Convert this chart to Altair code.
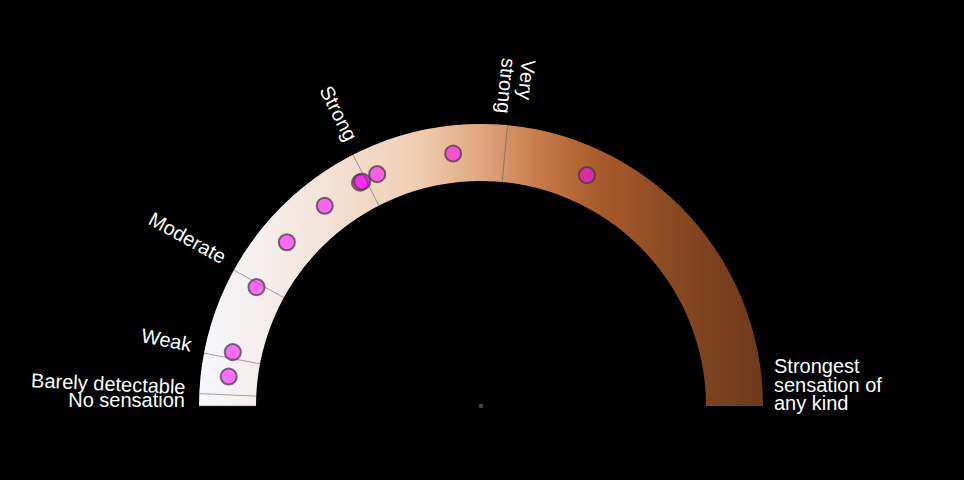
import math
import altair as alt
import pandas as pd

# ---- data ----
scale_labels = ["No sensation", "Barely detectable", "Weak", "Moderate", "Strong",
                "Very\nstrong", "Strongest\nsensation of\nany kind"]
scale_values = [0, 1.4, 6, 16, 35, 53, 100]
ratings = [3.7, 6.8, 15.5, 22.3, 28.9, 34.2, 34.5, 36.6, 46.5, 63.7]

grad_offsets = [0.0, 0.09, 0.23, 0.39, 0.5, 0.605, 0.71, 0.89, 1.0]
grad_colors = ["#f7f7fc", "#f5f0f0", "#f4e2d6", "#f0cdb0", "#e0a680",
               "#c87a48", "#a95a2a", "#7e4420", "#6e3a1c"]

# ---- geometry / layout ----
W, H = 948, 464
CX, CY = 473, 398
R_OUT, R_IN, R_PT, R_LBL = 282, 225, 254, 296
FONT = "Liberation Sans"
FS = 20

xs = alt.Scale(domain=[-CX, W - CX], nice=False, zero=False)
ys = alt.Scale(domain=[-(H - CY), CY], nice=False, zero=False)

def X(field=None, datum=None):
    if datum is not None:
        return alt.X(datum=datum, type="quantitative", scale=xs, axis=None)
    return alt.X(field, type="quantitative", scale=xs, axis=None)

def Y(field=None, datum=None):
    if datum is not None:
        return alt.Y(datum=datum, type="quantitative", scale=ys, axis=None)
    return alt.Y(field, type="quantitative", scale=ys, axis=None)

scale_df = pd.DataFrame({"label": scale_labels, "v": scale_values})
ratings_df = pd.DataFrame({"v": ratings})

gradient = alt.LinearGradient(
    gradient="linear", x1=0, x2=1, y1=0, y2=0,
    stops=[alt.GradientStop(color=c, offset=o) for c, o in zip(grad_colors, grad_offsets)],
)

ring = alt.Chart(pd.DataFrame({"v": [0]})).mark_arc(
    theta=1.5 * math.pi, theta2=2.5 * math.pi, radius=R_OUT, radius2=R_IN,
    fill=gradient,
).encode(x=X(datum=0), y=Y(datum=0))

ticks = alt.Chart(scale_df).transform_filter("datum.v < 100").transform_calculate(
    a="datum.v / 100 * PI",
).transform_calculate(
    x1=f"-{R_IN} * cos(datum.a)", y1=f"{R_IN} * sin(datum.a)",
    x2=f"-{R_OUT} * cos(datum.a)", y2=f"{R_OUT} * sin(datum.a)",
).mark_rule(color="#555555", strokeWidth=1, opacity=0.55).encode(
    x=X("x1"), y=Y("y1"), x2="x2:Q", y2="y2:Q"
)

center = alt.Chart(pd.DataFrame({"v": [0]})).mark_circle(
    color="#444444", size=22, opacity=1
).encode(x=X(datum=0), y=Y(datum=0))

points = alt.Chart(ratings_df).transform_calculate(
    a="datum.v / 100 * PI"
).transform_calculate(
    px=f"-{R_PT} * cos(datum.a)", py=f"{R_PT} * sin(datum.a)"
).mark_point(
    filled=True, fill="#ff00ff", fillOpacity=0.55, stroke="#3a3a3a",
    strokeOpacity=0.7, strokeWidth=2, size=260, shape="circle",
).encode(x=X("px"), y=Y("py"))

lbl_base = alt.Chart(scale_df).transform_calculate(
    a="datum.v / 100 * PI", rot="datum.v * 1.8"
)

left_labels = lbl_base.transform_filter("datum.v < 50").transform_calculate(
    lx=f"-{R_LBL} * cos(datum.a)", ly=f"{R_LBL} * sin(datum.a)"
).mark_text(
    align="right", baseline="alphabetic", font=FONT, fontSize=FS, color="white", dy=1
).encode(x=X("lx"), y=Y("ly"), text="label:N", angle=alt.Angle("rot:Q", scale=None))

R_VS = 349
top_labels = lbl_base.transform_filter("datum.v >= 50 && datum.v < 100").transform_calculate(
    lx=f"-{R_VS} * cos(datum.a)", ly=f"{R_VS} * sin(datum.a)"
).mark_text(
    align="left", baseline="alphabetic", font=FONT, fontSize=FS, color="white",
    lineBreak="\n", lineHeight=20, dy=-8,
).encode(x=X("lx"), y=Y("ly"), text="label:N", angle=alt.Angle("rot:Q", scale=None))

R_END = 293
end_labels = lbl_base.transform_filter("datum.v >= 100").transform_calculate(
    lx=f"-{R_END} * cos(datum.a)", ly=f"{R_END} * sin(datum.a)"
).mark_text(
    align="left", baseline="alphabetic", font=FONT, fontSize=FS, color="white",
    lineBreak="\n", lineHeight=18.5, dy=-33,
).encode(x=X("lx"), y=Y("ly"), text="label:N")

chart = alt.layer(ring, ticks, center, points, left_labels, top_labels, end_labels).properties(
    width=W, height=H, padding=0, autosize=alt.AutoSizeParams(type="none"),
    background="black",
).configure_view(stroke=None)

chart.save("out.html", embed_options={"renderer": "svg", "actions": False,
                                      "defaultStyle": "body { background: #000000; }"})
